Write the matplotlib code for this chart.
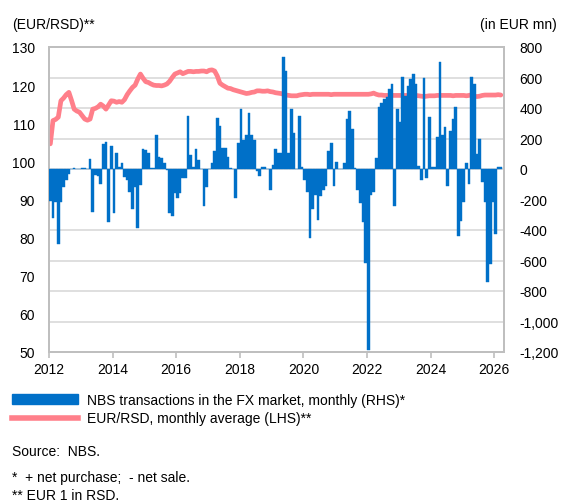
import numpy as np
import matplotlib
matplotlib.use('Agg')
import matplotlib.pyplot as plt
from matplotlib.ticker import FixedLocator, FuncFormatter
from matplotlib.patches import Patch
from matplotlib.lines import Line2D

plt.rcParams['font.family'] = ['Liberation Sans', 'DejaVu Sans']

# monthly data from Jan 2012 to Mar 2026
start_year = 2012
# NBS net FX transactions, EUR mn (RHS)
nbs_fx = [
    -210, -320, -215, -490, -215, -120, -70, -30, 0, 8, 0, 0,            # 2012
    8, 8, 0, 65, -285, -40, -45, -100, 165, 175, -345, 150,              # 2013
    -290, 105, 10, 40, -50, -75, -150, -260, -120, -390, -105, 130,      # 2014
    125, 105, 5, 5, 220, 80, 70, 40, -5, -290, -310, -160,               # 2015
    -190, -160, -60, -60, 350, 90, 15, 130, 60, 0, -240, -115,           # 2016
    0, 40, 115, 335, 285, 140, 135, 80, 5, 0, -190, 170,                 # 2017
    395, 190, 225, 370, 225, 190, -15, -45, 15, 10, 0, -135,             # 2018
    25, 130, 105, 105, 735, 640, 105, 392, 235, 0, 350, 10,              # 2019
    -70, -150, -455, -260, -170, -335, -180, -140, -110, 115, 170, -110, # 2020
    45, 0, 0, 40, 330, 380, 260, 5, -140, -220, -345, -615,              # 2021
    -1185, -170, -150, 70, 405, 435, 460, 470, 525, 555, -240, 395,      # 2022
    305, 605, 480, 545, 590, 620, 560, 20, -70, 595, -58, 340,           # 2023
    15, 10, 210, 700, 225, 275, -110, 250, 330, 405, -440, -340,         # 2024
    -215, 37, -100, 600, 560, 100, 195, -83, -215, -740, -620, -215,     # 2025
    -423, 10, 15,                                                        # 2026
]
# EUR/RSD monthly average (LHS)
eur_rsd = [
    104.6, 110.7, 111.0, 111.6, 115.9, 116.6, 117.5, 118.1, 116.0, 113.7, 113.2, 112.9,
    112.0, 111.1, 110.8, 111.1, 113.7, 113.9, 114.3, 115.0, 114.5, 113.7, 114.8, 115.9,
    115.8, 115.5, 115.7, 115.5, 116.2, 117.5, 118.5, 119.4, 120.0, 121.6, 122.9, 121.8,
    120.9, 120.7, 120.3, 120.0, 119.9, 119.9, 119.8, 120.0, 120.3, 121.0, 122.0, 122.9,
    123.2, 123.5, 123.0, 123.3, 123.6, 123.6, 123.5, 123.6, 123.6, 123.7, 123.7, 123.5,
    123.9, 124.0, 123.7, 122.4, 120.5, 120.0, 119.6, 119.2, 119.1, 118.8, 118.6, 118.4,
    118.2, 118.0, 117.8, 117.9, 118.1, 118.2, 118.5, 118.5, 118.4, 118.4, 118.5, 118.3,
    118.2, 118.0, 117.9, 117.8, 117.6, 117.4, 117.3, 117.2, 117.2, 117.2, 117.4, 117.5,
    117.6, 117.6, 117.5, 117.6, 117.6, 117.6, 117.6, 117.6, 117.6, 117.6, 117.5, 117.6,
    117.6, 117.6, 117.6, 117.6, 117.6, 117.6, 117.6, 117.6, 117.6, 117.6, 117.6, 117.6,
    117.6, 117.7, 117.9, 117.6, 117.4, 117.4, 117.3, 117.3, 117.3, 117.3, 117.3, 117.3,
    117.3, 117.3, 117.3, 117.3, 117.3, 117.2, 117.3, 117.2, 117.1, 117.0, 117.1, 117.2,
    117.2, 117.2, 117.3, 117.3, 117.3, 117.3, 117.3, 117.3, 117.2, 117.3, 117.3, 117.3,
    117.3, 117.2, 117.3, 117.5, 117.1, 117.0, 117.1, 117.3, 117.4, 117.4, 117.4, 117.4,
    117.4, 117.5, 117.4,
]
year_ticks = [2012, 2014, 2016, 2018, 2020, 2022, 2024, 2026]
lhs_ticks = [50, 60, 70, 80, 90, 100, 110, 120, 130]
rhs_ticks = list(range(-1200, 801, 200))

blue = '#0070C8'
pink = '#FF7F8A'
grey = '#BFBFBF'

n = len(nbs_fx)
months = start_year + np.arange(n) / 12.0

fig = plt.figure(figsize=(5.61, 5.02), dpi=100)
ax = fig.add_axes([49 / 561, 149 / 502, 455 / 561, 305 / 502])
ax2 = ax.twinx()

# line on left axis, bars (RHS) on top like the original
ax.plot(months + 1 / 24, eur_rsd, color=pink, lw=3.4, solid_capstyle='round', zorder=3)
ax2.bar(months, nbs_fx, width=1 / 12, align='edge', color=blue,
        edgecolor=blue, linewidth=0.3, zorder=3)

ax.set_xlim(start_year, start_year + 171.7 / 12)
ax.set_ylim(50, 130)
ax2.set_ylim(-1200, 800)

# gridlines follow the right axis, drawn on the left axis as minor ticks
ax.yaxis.set_major_locator(FixedLocator(lhs_ticks))
ax.yaxis.set_minor_locator(FixedLocator([50 + (v + 1200) / 2000 * 80 for v in rhs_ticks]))
ax.grid(True, which='minor', axis='y', color='#D9D9D9', lw=1.2)
ax.set_axisbelow(True)
ax2.yaxis.set_major_locator(FixedLocator(rhs_ticks))
ax2.yaxis.set_major_formatter(FuncFormatter(lambda v, p: f'{int(v):,}'))

ax.set_xticks(year_ticks)
ax.set_xticklabels([str(y) for y in year_ticks])
ax.tick_params(axis='x', length=4, color=grey, width=1.2, pad=3, labelsize=10)
ax.tick_params(axis='y', which='both', length=0, pad=10, labelsize=10)
ax2.tick_params(axis='y', length=0, pad=11, labelsize=10)

for a in (ax, ax2):
    for s in a.spines.values():
        s.set_color(grey)
        s.set_linewidth(1.3)

fig.text(12 / 561, 1 - 25 / 502, '(EUR/RSD)**', fontsize=10, va='center', ha='left')
fig.text(557 / 561, 1 - 25 / 502, '(in EUR mn)', fontsize=10, va='center', ha='right')

handles = [Patch(color=blue), Line2D([0], [0], color=pink, lw=4)]
labels = ['NBS transactions in the FX market, monthly (RHS)*', 'EUR/RSD, monthly average (LHS)**']
fig.legend(handles, labels, loc='upper left', bbox_to_anchor=(6 / 561, 1 - 388 / 502),
           frameon=False, fontsize=10, handlelength=4.8, handleheight=0.7,
           handletextpad=0.6, labelspacing=0.35, borderaxespad=0)

fig.text(12 / 561, 1 - 452 / 502, 'Source:  NBS.', fontsize=10, va='center')
fig.text(12 / 561, 1 - 478 / 502, '*  + net purchase;  - net sale.', fontsize=10, va='center')
fig.text(12 / 561, 1 - 496 / 502, '** EUR 1 in RSD.', fontsize=10, va='center')

fig.savefig('out.png', dpi=100)
